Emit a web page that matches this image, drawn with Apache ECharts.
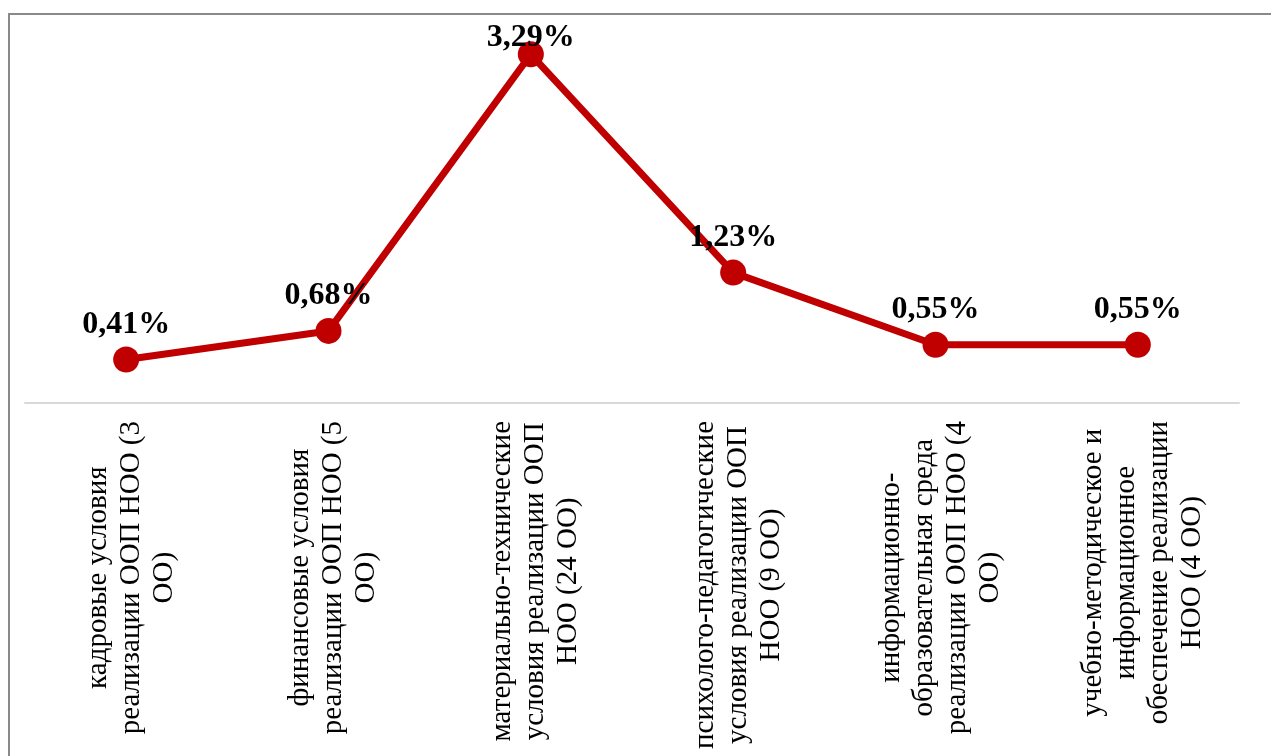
<!DOCTYPE html>
<html>
<head>
<meta charset="utf-8">
<script src="https://cdn.jsdelivr.net/npm/echarts@6/dist/echarts.min.js"></script>
<style>
html,body{margin:0;padding:0;background:#fff;}
#chart{width:1271px;height:756px;}
</style>
</head>
<body>
<div id="chart"></div>
<script>
const categories = [
  "кадровые условия\nреализации ООП НОО (3\nОО)",
  "финансовые условия\nреализации ООП НОО (5\nОО)",
  "материально-технические\nусловия реализации ООП\nНОО (24 ОО)",
  "психолого-педагогические\nусловия реализации ООП\nНОО (9 ОО)",
  "информационно-\nобразовательная среда\nреализации ООП НОО (4\nОО)",
  "учебно-методическое и\nинформационное\nобеспечение реализации\nНОО (4 ОО)"
];
const values = [0.41, 0.68, 3.29, 1.23, 0.55, 0.55];
const valueLabels = ["0,41%", "0,68%", "3,29%", "1,23%", "0,55%", "0,55%"];

const chart = echarts.init(document.getElementById('chart'));
const FONT = '"Liberation Serif", "Times New Roman", serif';
chart.setOption({
  animation: false,
  backgroundColor: '#fff',
  graphic: [{
    type: 'rect',
    shape: {x: 9, y: 14, width: 1400, height: 900},
    style: {fill: 'none', stroke: '#898989', lineWidth: 2},
    silent: true
  }],
  grid: {left: 25, right: 32, top: 32, bottom: 353, containLabel: false},
  xAxis: {
    type: 'category',
    data: categories,
    boundaryGap: true,
    axisLine: {show: true, lineStyle: {color: '#d9d9d9', width: 2}},
    axisTick: {show: false},
    axisLabel: {
      interval: 0,
      rotate: 90,
      margin: 18,
      padding: [10, 0, 0, 0],
      formatter: function (v) {
        return v.split('\n').map(function (s) { return '{c|' + s + '}'; }).join('\n');
      },
      rich: {
        c: {align: 'center', fontFamily: FONT, fontSize: 29, lineHeight: 33, color: '#000'}
      }
    }
  },
  yAxis: {
    type: 'value',
    min: 0,
    max: 3.5,
    show: false,
    splitLine: {show: false}
  },
  series: [{
    type: 'line',
    data: values.map(function (v, i) {
      const item = {value: v};
      if (i === 2) item.label = {distance: -12};
      return item;
    }),
    symbol: 'circle',
    symbolSize: 26,
    lineStyle: {color: '#C00000', width: 7},
    itemStyle: {color: '#C00000'},
    label: {
      show: true,
      position: 'top',
      distance: 6,
      formatter: function (p) { return valueLabels[p.dataIndex]; },
      fontFamily: FONT,
      fontSize: 32,
      fontWeight: 'bold',
      color: '#000'
    }
  }]
});
</script>
</body>
</html>
